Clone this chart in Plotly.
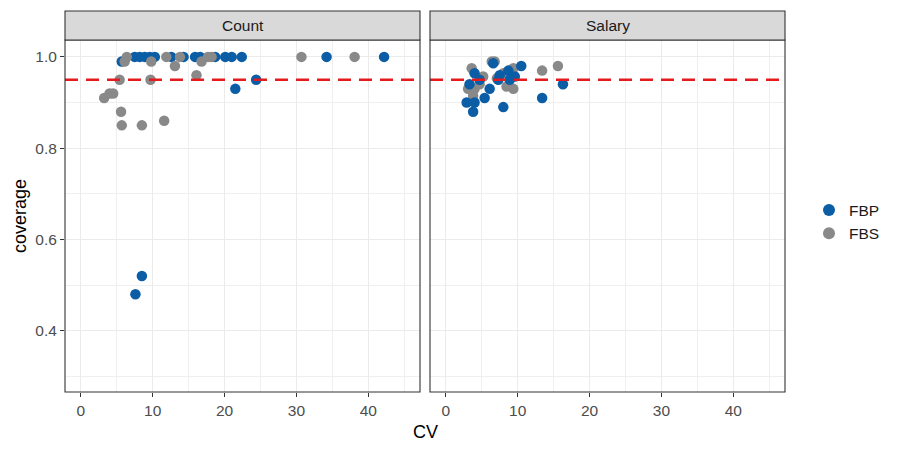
import plotly.graph_objects as go

# ---- data ----
panels = ["Count", "Salary"]
series = ["FBP", "FBS"]

count_fbp_cv = [5.7, 7.5, 8.2, 8.9, 9.6, 10.3, 12.6, 14.3, 15.9, 16.6, 18.7, 20.1, 21.0, 22.4, 34.2, 42.2, 21.5, 24.4, 7.6, 8.5]
count_fbp_cov = [0.99, 1.0, 1.0, 1.0, 1.0, 1.0, 1.0, 1.0, 1.0, 1.0, 1.0, 1.0, 1.0, 1.0, 1.0, 1.0, 0.93, 0.95, 0.48, 0.52]

count_fbs_cv = [6.1, 6.4, 9.8, 11.9, 13.8, 13.1, 16.1, 16.8, 17.7, 18.2, 30.7, 38.1, 5.4, 9.7, 3.25, 4.0, 4.5, 5.6, 5.7, 8.5, 11.6]
count_fbs_cov = [0.99, 1.0, 0.99, 1.0, 1.0, 0.98, 0.96, 0.99, 1.0, 1.0, 1.0, 1.0, 0.95, 0.95, 0.91, 0.92, 0.92, 0.88, 0.85, 0.85, 0.86]

salary_fbp_cv = [10.5, 6.6, 4.0, 4.7, 3.3, 2.9, 3.8, 5.4, 6.1, 8.0, 4.0, 7.5, 8.7, 9.6, 7.3, 8.9, 13.4, 16.3]
salary_fbp_cov = [0.98, 0.986, 0.964, 0.95, 0.94, 0.90, 0.88, 0.91, 0.93, 0.89, 0.90, 0.96, 0.97, 0.957, 0.95, 0.95, 0.91, 0.94]

salary_fbs_cv = [6.4, 6.8, 3.6, 5.2, 4.0, 3.8, 4.7, 3.1, 8.0, 9.4, 8.45, 9.4, 7.1, 13.4, 15.6]
salary_fbs_cov = [0.99, 0.99, 0.975, 0.957, 0.93, 0.915, 0.94, 0.93, 0.964, 0.975, 0.935, 0.93, 0.953, 0.97, 0.98]

target_coverage = 0.95
x_ticks = [0, 10, 20, 30, 40]
y_ticks = [0.4, 0.6, 0.8, 1.0]
x_range = [-2.2, 47.2]
y_range = [0.266, 1.037]

colors = {"FBP": "#0B5DA5", "FBS": "#898989"}
FONT = "Liberation Sans, Arial, Helvetica"

fig = go.Figure()

def add_pts(x, y, name, xa, ya, show):
    fig.add_trace(go.Scatter(
        x=x, y=y, mode="markers", name=name, legendgroup=name, showlegend=show,
        marker=dict(color=colors[name], size=10.5, line=dict(width=0)),
        xaxis=xa, yaxis=ya))

add_pts(count_fbp_cv, count_fbp_cov, "FBP", "x", "y", True)
add_pts(count_fbs_cv, count_fbs_cov, "FBS", "x", "y", True)
add_pts(salary_fbs_cv, salary_fbs_cov, "FBS", "x2", "y2", False)
add_pts(salary_fbp_cv, salary_fbp_cov, "FBP", "x2", "y2", False)

# dashed reference lines
for xa, ya in [("x", "y"), ("x2", "y2")]:
    fig.add_trace(go.Scatter(
        x=x_range, y=[target_coverage, target_coverage], mode="lines", showlegend=False,
        line=dict(color="#E41A1C", width=2.5, dash="13px,8px"), hoverinfo="skip",
        xaxis=xa, yaxis=ya))

W, H = 900, 450
OFF = 8  # page body margin offset
def px_x(p): return (p - OFF) / W
def px_y(p): return 1 - (p - OFF) / H

dom1 = [px_x(65), px_x(420)]
dom2 = [px_x(430), px_x(785)]
ydom = [px_y(392), px_y(40)]

axis_common = dict(
    showline=False, zeroline=False, ticklen=4, tickwidth=1.1, automargin=False,
    tickcolor="#333333", gridcolor="#EBEBEB", gridwidth=1.1,
    tickfont=dict(family=FONT, size=15.5, color="#4D4D4D"),
    minor=dict(showgrid=True, gridcolor="#EFEFEF", gridwidth=0.6, ticks=""),
)

fig.update_layout(
    width=W, height=H, margin=dict(l=0, r=0, t=0, b=0),
    paper_bgcolor="white", plot_bgcolor="white",
    font=dict(family=FONT, color="#1A1A1A"),
    xaxis=dict(domain=dom1, range=x_range, tickvals=x_ticks, anchor="y", ticks="outside",
               minor_dtick=5, minor_tick0=5, **axis_common),
    xaxis2=dict(domain=dom2, range=x_range, tickvals=x_ticks, anchor="y2", ticks="outside",
                minor_dtick=5, minor_tick0=5, **axis_common),
    yaxis=dict(domain=ydom, range=y_range, tickvals=y_ticks, tickformat=".1f", anchor="x",
               ticks="outside", minor_dtick=0.2, minor_tick0=0.3, **axis_common),
    yaxis2=dict(domain=ydom, range=y_range, tickvals=y_ticks, anchor="x2",
                showticklabels=False, ticks="", minor_dtick=0.2, minor_tick0=0.3,
                **axis_common),
    legend=dict(x=px_x(809), y=px_y(222), xanchor="left", yanchor="middle",
                font=dict(family=FONT, size=15.5, color="#1A1A1A"), itemsizing="constant",
                tracegroupgap=0, bgcolor="rgba(0,0,0,0)"),
    showlegend=True,
)

shapes = []
annotations = []
for dom, label in zip([dom1, dom2], panels):
    # panel border
    shapes.append(dict(type="rect", xref="paper", yref="paper",
                       x0=dom[0], x1=dom[1], y0=ydom[0], y1=ydom[1],
                       line=dict(color="#333333", width=1.1), fillcolor="rgba(0,0,0,0)", layer="above"))
    # strip
    shapes.append(dict(type="rect", xref="paper", yref="paper",
                       x0=dom[0], x1=dom[1], y0=ydom[1], y1=px_y(11),
                       line=dict(color="#333333", width=1.1), fillcolor="#D9D9D9", layer="above"))
    annotations.append(dict(text=label, xref="paper", yref="paper",
                            x=(dom[0] + dom[1]) / 2, y=px_y(25.5), showarrow=False,
                            xanchor="center", yanchor="middle",
                            font=dict(family=FONT, size=15.5, color="#1A1A1A")))

annotations.append(dict(text="CV", xref="paper", yref="paper", x=px_x(425), y=px_y(432),
                        showarrow=False, xanchor="center", yanchor="middle",
                        font=dict(family=FONT, size=18, color="#000000")))
annotations.append(dict(text="coverage", xref="paper", yref="paper", x=px_x(20), y=px_y(216),
                        showarrow=False, xanchor="center", yanchor="middle", textangle=-90,
                        font=dict(family=FONT, size=18, color="#000000")))

fig.update_layout(shapes=shapes, annotations=annotations)

fig.write_html("out.html")
